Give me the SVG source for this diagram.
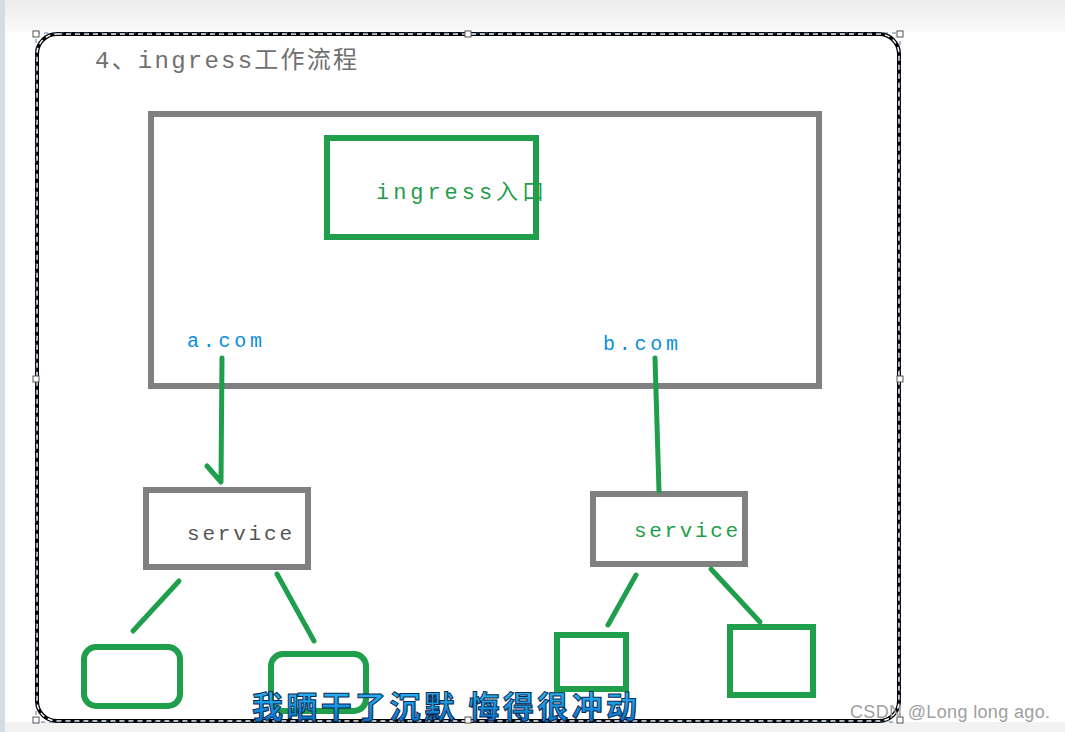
<svg xmlns="http://www.w3.org/2000/svg" width="1065" height="732" viewBox="0 0 1065 732">
<defs>
<linearGradient id="topbg" x1="0" y1="0" x2="0" y2="1">
<stop offset="0" stop-color="#ececec"/><stop offset="1" stop-color="#fafafa"/>
</linearGradient>
<linearGradient id="cap" x1="0" y1="0" x2="0" y2="1">
<stop offset="0" stop-color="#35c8ff"/><stop offset="1" stop-color="#0066c8"/>
</linearGradient>
<style>
.gray{fill:none;stroke:#808080;stroke-width:6}
.green{fill:none;stroke:#1f9e4b;stroke-width:6}
.wire{fill:none;stroke:#1f9e4b;stroke-width:5;stroke-linecap:round;stroke-linejoin:round}
.mono{font-family:"Liberation Mono","Noto Sans CJK SC",monospace}
.handle{fill:#fff;stroke:#555;stroke-width:1}
</style>
</defs>
<rect width="1065" height="732" fill="#fff"/>
<rect width="1065" height="32" fill="url(#topbg)"/>
<rect y="722" width="1065" height="10" fill="#f2f2f2"/>
<rect width="5" height="732" fill="#d6dbe4"/>
<g id="frame">
<rect x="37" y="34" width="862" height="687" rx="20" fill="#fff" stroke="#000" stroke-width="4"/>
<rect x="37" y="34" width="862" height="687" rx="20" fill="none" stroke="#fff" stroke-width="1.5" stroke-dasharray="5 4"/>
<rect x="36" y="33" width="864" height="689" fill="none" stroke="#2a5a9a" stroke-width="0.8" stroke-dasharray="4 4"/>
<rect x="33" y="31" width="6" height="6" class="handle"/>
<rect x="897" y="31" width="6" height="6" class="handle"/>
<rect x="33" y="717" width="6" height="6" class="handle"/>
<rect x="897" y="717" width="6" height="6" class="handle"/>
<rect x="465" y="31" width="6" height="6" class="handle"/>
<rect x="465" y="717" width="6" height="6" class="handle"/>
<rect x="33" y="376" width="6" height="6" class="handle"/>
<rect x="897" y="376" width="6" height="6" class="handle"/>
</g>
<text x="95" y="68" font-size="24" fill="#707070" class="mono" textLength="262" lengthAdjust="spacing">4、ingress工作流程</text>
<g id="ingress-container"><rect x="151" y="114" width="668" height="272" class="gray"/></g>
<g id="ingress-entry">
<rect x="327" y="138" width="209" height="99" class="green"/>
<text x="376" y="199" font-size="22" fill="#1f9e4b" class="mono" textLength="168" lengthAdjust="spacing">ingress入口</text>
</g>
<text x="187" y="347" font-size="20" fill="#0a8ee0" class="mono" textLength="75" lengthAdjust="spacing">a.com</text>
<text x="603" y="350" font-size="20" fill="#0a8ee0" class="mono" textLength="75" lengthAdjust="spacing">b.com</text>
<g id="service-a">
<rect x="146" y="490" width="162" height="77" class="gray"/>
<text x="187" y="540" font-size="21" fill="#555" class="mono" textLength="105" lengthAdjust="spacing">service</text>
</g>
<g id="service-b">
<rect x="593" y="494" width="152" height="70" class="gray"/>
<text x="634" y="537" font-size="21" fill="#1f9e4b" class="mono" textLength="104" lengthAdjust="spacing">service</text>
</g>
<g id="pod-a1"><rect x="84" y="647" width="96" height="59" rx="12" class="green"/></g>
<g id="pod-a2"><rect x="271" y="654" width="95" height="57" rx="12" class="green"/></g>
<g id="pod-b1"><rect x="557" y="635" width="69" height="54" class="green"/></g>
<g id="pod-b2"><rect x="730" y="627" width="83" height="68" class="green"/></g>
<g id="connectors">
<path d="M222 358 L221 482 M207 466 L221 482" class="wire"/>
<path d="M655 358 L659 491" class="wire"/>
<path d="M179 581 L133 631" class="wire"/>
<path d="M277 574 L314 641" class="wire"/>
<path d="M636 575 L608 625" class="wire"/>
<path d="M711 569 L760 622" class="wire"/>
</g>
<text x="252" y="718" font-size="31" font-weight="bold" fill="url(#cap)" stroke="#0a2a50" stroke-width="1" font-family="'Noto Sans CJK SC',sans-serif" textLength="385" lengthAdjust="spacing">我晒干了沉默 悔得很冲动</text>
<text x="850" y="718" font-size="18" fill="#a0a0a0" font-family="'Liberation Sans',Arial,sans-serif" textLength="200" lengthAdjust="spacing">CSDN @Long long ago.</text>
</svg>
